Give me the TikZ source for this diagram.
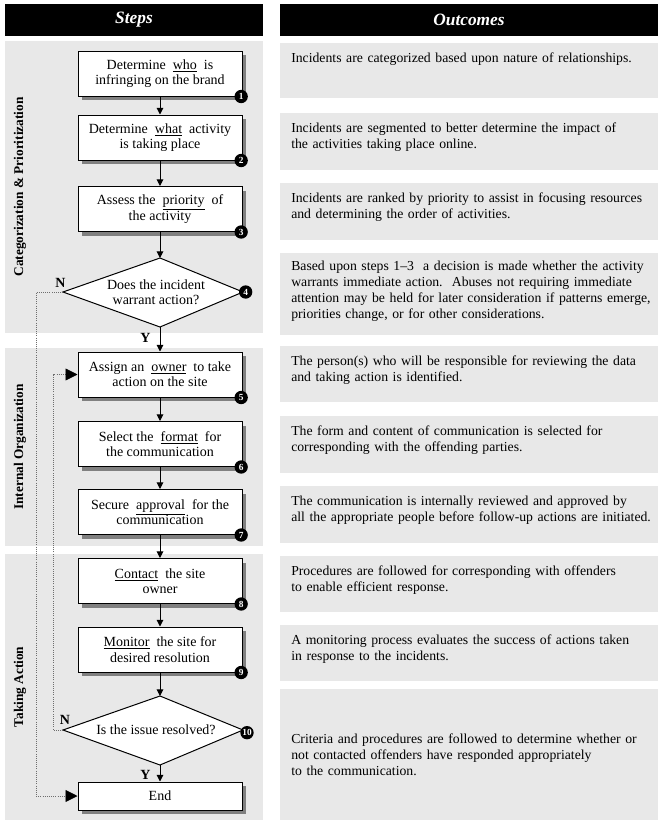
\documentclass[tikz,border=0pt]{standalone}
\usepackage{fontspec}
\setmainfont{Liberation Serif}
\usetikzlibrary{arrows.meta, positioning, shadows, calc}
\definecolor{panelgray}{HTML}{E8E8E8}
\definecolor{shadowgray}{HTML}{808080}
\definecolor{dotgray}{HTML}{6E6E6E}
\newcommand{\keyword}[1]{\ \underline{#1}\ }

\begin{document}
\begin{tikzpicture}[x=0.75pt, y=-0.75pt,
  bodyfont/.style={font=\fontsize{10.5pt}{11.5pt}\selectfont},
  header/.style={fill=black, text=white, inner sep=0pt,
    font=\bfseries\itshape\fontsize{13pt}{15pt}\selectfont},
  stepbox/.style={draw, line width=0.75pt, fill=white, align=center,
    minimum width=123pt, minimum height=33.75pt, inner sep=2pt, bodyfont,
    drop shadow={shadow xshift=3pt, shadow yshift=-3pt, fill=shadowgray, opacity=1}},
  decision/.style={draw, line width=0.75pt, fill=white},
  badge/.style={circle, fill=black, text=white, inner sep=0pt, minimum size=10pt,
    font=\bfseries\fontsize{7pt}{7pt}\selectfont},
  phase/.style={rotate=90, font=\bfseries\fontsize{10pt}{12pt}\selectfont},
  answer/.style={font=\bfseries\fontsize{10.5pt}{12pt}\selectfont, inner sep=0pt},
  outcome/.style={anchor=north west, inner sep=0pt, text width=290pt, align=left,
    font=\fontsize{10.3pt}{12pt}\selectfont},
  flow/.style={line width=0.75pt, -{Triangle[length=5pt, width=5pt]}},
  loopback/.style={densely dotted, dotgray, line width=0.6pt,
    -{Triangle[length=9pt, width=9pt, color=black]}}]

  \useasboundingbox (0,0) rectangle (661,822);

  % Column headers
  \node[header, minimum width=193.5pt, minimum height=24pt] (hsteps) at (134,20) {Steps};
  \node[header, minimum width=283.5pt, minimum height=24pt] (hout) at (469,20) {Outcomes};

  % Phase panels on the left
  \fill[panelgray] (5,41) rectangle (263,333);
  \fill[panelgray] (5,348) rectangle (263,546);
  \fill[panelgray] (5,554) rectangle (263,820);
  \node[phase] (pcat) at (20,187) {Categorization \& Prioritization};
  \node[phase] (pint) at (20,447) {Internal Organization};
  \node[phase] (pact) at (20,687) {Taking Action};

  % Outcome panels on the right
  \fill[panelgray] (280,43) rectangle (658,98);
  \fill[panelgray] (280,113) rectangle (658,170);
  \fill[panelgray] (280,183) rectangle (658,240);
  \fill[panelgray] (280,253) rectangle (658,335);
  \fill[panelgray] (280,346) rectangle (658,402);
  \fill[panelgray] (280,416) rectangle (658,473);
  \fill[panelgray] (280,486) rectangle (658,543);
  \fill[panelgray] (280,556) rectangle (658,612);
  \fill[panelgray] (280,625) rectangle (658,681);
  \fill[panelgray] (280,689) rectangle (658,820);

  % Step boxes
  \node[stepbox] (b1) at (160,73.5) {Determine \keyword{who} is\\infringing on the brand};
  \node[stepbox] (b2) at (160,137.5) {Determine \keyword{what} activity\\is taking place};
  \node[stepbox] (b3) at (160,209) {Assess the \keyword{priority} of\\the activity};
  \node[stepbox] (b5) at (160,374.5) {Assign an \keyword{owner} to take\\action on the site};
  \node[stepbox] (b6) at (160,444) {Select the \keyword{format} for\\the communication};
  \node[stepbox] (b7) at (160,512) {Secure \keyword{approval} for the\\communication};
  \node[stepbox] (b8) at (160,581) {\underline{Contact}\ \ the site\\owner};
  \node[stepbox] (b9) at (160,649.5) {\underline{Monitor}\ \ the site for\\desired resolution};
  \node[stepbox, minimum height=21pt] (end) at (160,796) {End};

  % Decision diamonds
  \coordinate (d4t) at (160,258);
  \coordinate (d4r) at (243,292);
  \coordinate (d4b) at (160,327);
  \coordinate (d4l) at (63,292);
  \draw[decision] (d4t) -- (d4r) -- (d4b) -- (d4l) -- cycle;
  \node[bodyfont, align=center] (d4) at (156,292) {Does the incident\\warrant action?};

  \coordinate (d10t) at (160,696);
  \coordinate (d10r) at (243,730);
  \coordinate (d10b) at (160,765);
  \coordinate (d10l) at (63,730);
  \draw[decision] (d10t) -- (d10r) -- (d10b) -- (d10l) -- cycle;
  \node[bodyfont] (d10) at (156,730) {Is the issue resolved?};

  % Step numbers
  \node[badge] (n1) at ([xshift=-1pt]b1.south east) {1};
  \node[badge] (n2) at ([xshift=-1pt]b2.south east) {2};
  \node[badge] (n3) at ([xshift=-1pt]b3.south east) {3};
  \node[badge] (n4) at ([xshift=2pt]d4r) {4};
  \node[badge] (n5) at ([xshift=-1pt]b5.south east) {5};
  \node[badge] (n6) at ([xshift=-1pt]b6.south east) {6};
  \node[badge] (n7) at ([xshift=-1pt]b7.south east) {7};
  \node[badge] (n8) at ([xshift=-1pt]b8.south east) {8};
  \node[badge] (n9) at ([xshift=-1pt]b9.south east) {9};
  \node[badge] (n10) at ([xshift=3pt,yshift=-2pt]d10r) {10};

  % Main flow
  \draw[flow] (b1) -- (b2);
  \draw[flow] (b2) -- (b3);
  \draw[flow] (b3) -- (d4t);
  \draw[flow] (d4b) -- (b5);
  \draw[flow] (b5) -- (b6);
  \draw[flow] (b6) -- (b7);
  \draw[flow] (b7) -- (b8);
  \draw[flow] (b8) -- (b9);
  \draw[flow] (b9) -- (d10t);
  \draw[flow] (d10b) -- (end);

  % Yes / No labels
  \node[answer, anchor=south] (no4) at ([xshift=-2pt,yshift=3pt]d4l) {N};
  \node[answer, anchor=north east] (yes4) at ([xshift=-7pt,yshift=-4.5pt]d4b) {Y};
  \node[answer, anchor=south] (no10) at ([xshift=1.5pt,yshift=4pt]d10l) {N};
  \node[answer, anchor=north east] (yes10) at ([xshift=-7pt,yshift=-3.5pt]d10b) {Y};

  % Dotted loops back
  \draw[loopback] (d4l) -- ++(-27,0) |- (end.west);
  \draw[loopback] (d10l) -- ++(-10,0) |- (b5.west);

  % Outcome texts
  \node[outcome] (o1) at (291,53) {Incidents are categorized based upon nature of relationships.};
  \node[outcome] (o2) at (291,123) {Incidents are segmented to better determine the impact of\\the activities taking place online.};
  \node[outcome] (o3) at (291,193) {Incidents are ranked by priority to assist in focusing resources\\and determining the order of activities.};
  \node[outcome] (o4) at (291,261) {Based upon steps 1--3\ \ a decision is made whether the activity\\warrants immediate action.\ \ Abuses not requiring immediate\\attention may be held for later consideration if patterns emerge,\\priorities change, or for other considerations.};
  \node[outcome] (o5) at (291,356) {The person(s) who will be responsible for reviewing the data\\and taking action is identified.};
  \node[outcome] (o6) at (291,426) {The form and content of communication is selected for\\corresponding with the offending parties.};
  \node[outcome] (o7) at (291,496) {The communication is internally reviewed and approved by\\all the appropriate people before follow-up actions are initiated.};
  \node[outcome] (o8) at (291,566) {Procedures are followed for corresponding with offenders\\to enable efficient response.};
  \node[outcome] (o9) at (291,635) {A monitoring process evaluates the success of actions taken\\in response to the incidents.};
  \node[outcome, anchor=west] (o10) at (291,755) {Criteria and procedures are followed to determine whether or\\not contacted offenders have responded appropriately\\to the communication.};
\end{tikzpicture}
\end{document}
